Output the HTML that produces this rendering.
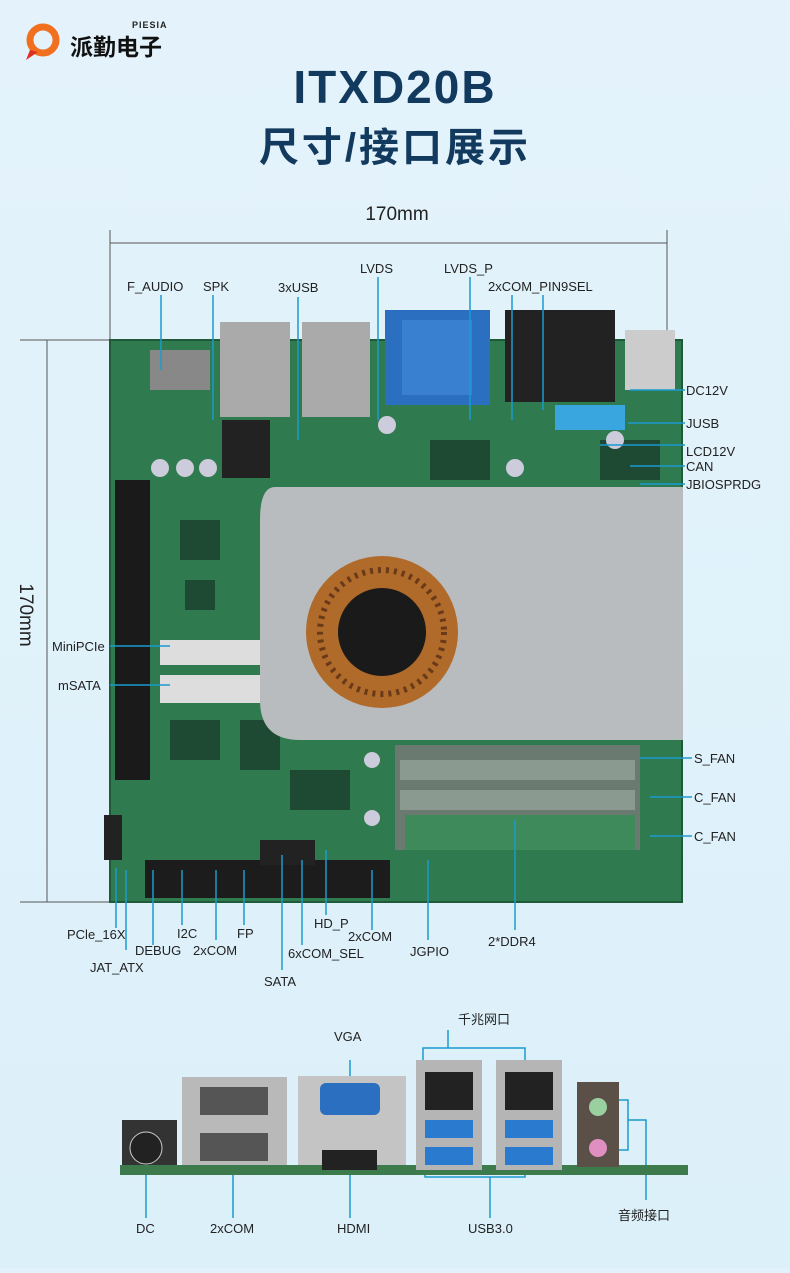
<!DOCTYPE html><html><head><meta charset="utf-8"><style>
body{margin:0;width:790px;height:1268px;overflow:hidden;background:#e2f2fb}
text{font-family:"Liberation Sans","Noto Sans CJK SC",sans-serif}
</style></head><body>
<svg width="790" height="1268" viewBox="0 0 790 1268" xmlns="http://www.w3.org/2000/svg">
<defs><linearGradient id="bg" x1="0" y1="0" x2="0" y2="1"><stop offset="0" stop-color="#e4f3fb"/><stop offset="1" stop-color="#dcf0fa"/></linearGradient></defs>
<rect width="790" height="1268" fill="url(#bg)"/>
<!-- logo -->
<circle cx="43" cy="40" r="13" fill="none" stroke="#f07020" stroke-width="7"/>
<path d="M30 50 L26 60 L38 52Z" fill="#e03020"/>
<text x="132" y="28" font-size="9" font-weight="bold" fill="#222" letter-spacing="1">PIESIA</text>
<text x="70" y="55" font-size="23" font-weight="bold" fill="#111">派勤电子</text>
<text x="395" y="103" font-size="46" font-weight="bold" fill="#123a5e" text-anchor="middle" letter-spacing="2">ITXD20B</text>
<text x="395" y="161" font-size="40" font-weight="bold" fill="#123a5e" text-anchor="middle" letter-spacing="3">尺寸/接口展示</text>
<!-- dims -->
<text x="397" y="220" font-size="19" fill="#222" text-anchor="middle">170mm</text>
<g stroke="#555" stroke-width="1"><line x1="110" y1="243" x2="667" y2="243"/><line x1="110" y1="230" x2="110" y2="340"/><line x1="667" y1="230" x2="667" y2="340"/>
<line x1="47" y1="340" x2="47" y2="902"/><line x1="20" y1="340" x2="115" y2="340"/><line x1="20" y1="902" x2="115" y2="902"/></g>
<text transform="translate(20,615) rotate(90)" font-size="19" fill="#222" text-anchor="middle">170mm</text>
<!-- board -->
<rect x="110" y="340" width="572" height="562" fill="#2f7a4e"/>
<rect x="110" y="340" width="572" height="562" fill="none" stroke="#1f5a38" stroke-width="2"/>
<g fill="#1e4a34"><rect x="180" y="520" width="40" height="40"/><rect x="185" y="580" width="30" height="30"/><rect x="170" y="720" width="50" height="40"/><rect x="240" y="720" width="40" height="50"/><rect x="430" y="440" width="60" height="40"/><rect x="600" y="440" width="60" height="40"/><rect x="290" y="770" width="60" height="40"/></g>
<g fill="#ccd"><circle cx="160" cy="468" r="9"/><circle cx="185" cy="468" r="9"/><circle cx="208" cy="468" r="9"/><circle cx="387" cy="425" r="9"/><circle cx="515" cy="468" r="9"/><circle cx="372" cy="760" r="8"/><circle cx="372" cy="818" r="8"/><circle cx="615" cy="440" r="9"/></g>
<rect x="115" y="480" width="35" height="300" fill="#1a1a1a"/>
<rect x="150" y="350" width="60" height="40" fill="#888"/>
<rect x="220" y="322" width="70" height="95" fill="#aaa"/>
<rect x="302" y="322" width="68" height="95" fill="#aaa"/>
<rect x="385" y="310" width="105" height="95" fill="#2a6fc0"/>
<rect x="402" y="320" width="70" height="75" fill="#3a80d0"/>
<rect x="505" y="310" width="110" height="92" fill="#222"/>
<rect x="625" y="330" width="50" height="60" fill="#ccc"/>
<rect x="222" y="420" width="48" height="58" fill="#222"/>
<rect x="555" y="405" width="70" height="25" fill="#3aa6e0"/>
<rect x="160" y="640" width="100" height="25" fill="#ddd"/>
<rect x="160" y="675" width="100" height="28" fill="#ddd"/>
<rect x="395" y="745" width="245" height="105" fill="#6a7a70"/>
<rect x="400" y="760" width="235" height="20" fill="#8a9a90"/>
<rect x="400" y="790" width="235" height="20" fill="#8a9a90"/>
<rect x="405" y="815" width="230" height="35" fill="#3e8a5a"/>
<rect x="145" y="860" width="245" height="38" fill="#1c1c1c"/>
<rect x="260" y="840" width="55" height="25" fill="#222"/>
<rect x="104" y="815" width="18" height="45" fill="#222"/>
<!-- heatsink -->
<path d="M275 487 H683 V740 H300 Q260 740 260 700 V520 Q260 487 275 487Z" fill="#b9bcbe"/>
<circle cx="382" cy="632" r="76" fill="#b06a2a"/>
<circle cx="382" cy="632" r="62" fill="none" stroke="#6a3a18" stroke-width="6" stroke-dasharray="3 5"/>
<circle cx="382" cy="632" r="44" fill="#1a1a1a"/>
<!-- labels -->
<g stroke="#1a9ad0" stroke-width="1.5" fill="none">
<path d="M161 295V370M213 295V420M298 297V440M378 277V420M470 277V420M512 295V420M543 295V410"/>
<path d="M630 390H685M628 423H685M600 445H685M630 466H685M640 484H685M640 758H692M650 797H692M650 836H692"/>
<path d="M110 646H170M110 685H170"/>
<path d="M116 868V928M126 870V950M153 870V945M182 870V925M216 870V940M244 870V925M282 855V970M302 860V945M326 850V915M372 870V930M428 860V940M515 820V930"/>
<path d="M146 1150V1218M233 1095V1218M350 1060V1105M350 1160V1218M448 1030V1048M448 1048H423V1070M448 1048H525V1070M425 1150V1177H525V1150M490 1177V1218M610 1100H628V1150H610M628 1120H646V1200"/>
</g>
<g font-size="13" fill="#222">
<text x="127" y="291">F_AUDIO</text><text x="203" y="291">SPK</text><text x="278" y="292">3xUSB</text>
<text x="360" y="273">LVDS</text><text x="444" y="273">LVDS_P</text><text x="488" y="291">2xCOM_PIN9SEL</text>
<text x="686" y="395">DC12V</text><text x="686" y="428">JUSB</text><text x="686" y="456">LCD12V</text><text x="686" y="471">CAN</text><text x="686" y="489">JBIOSPRDG</text>
<text x="694" y="763">S_FAN</text><text x="694" y="802">C_FAN</text><text x="694" y="841">C_FAN</text>
<text x="52" y="651">MiniPCIe</text><text x="58" y="690">mSATA</text>
<text x="67" y="939">PCle_16X</text><text x="135" y="955">DEBUG</text><text x="90" y="972">JAT_ATX</text>
<text x="177" y="938">I2C</text><text x="193" y="955">2xCOM</text><text x="237" y="938">FP</text>
<text x="314" y="928">HD_P</text><text x="348" y="941">2xCOM</text><text x="288" y="958">6xCOM_SEL</text>
<text x="264" y="986">SATA</text><text x="410" y="956">JGPIO</text><text x="488" y="946">2*DDR4</text>
<text x="334" y="1041">VGA</text><text x="458" y="1024">千兆网口</text>
<text x="136" y="1233">DC</text><text x="210" y="1233">2xCOM</text><text x="337" y="1233">HDMI</text><text x="468" y="1233">USB3.0</text><text x="618" y="1220">音频接口</text>
</g>
<!-- IO panel -->
<rect x="120" y="1165" width="568" height="10" fill="#3d7a4c"/>
<rect x="122" y="1120" width="55" height="45" fill="#333"/><circle cx="146" cy="1148" r="16" fill="#222" stroke="#ccc"/>
<rect x="182" y="1077" width="105" height="88" fill="#b9b9b9"/>
<rect x="200" y="1087" width="68" height="28" fill="#555"/><rect x="200" y="1133" width="68" height="28" fill="#555"/>
<rect x="298" y="1076" width="108" height="89" fill="#c4c4c4"/>
<rect x="320" y="1083" width="60" height="32" rx="6" fill="#2a6fc0"/><rect x="322" y="1150" width="55" height="20" fill="#222"/>
<rect x="416" y="1060" width="66" height="110" fill="#b5b5b5"/><rect x="496" y="1060" width="66" height="110" fill="#b5b5b5"/>
<rect x="425" y="1072" width="48" height="38" fill="#222"/><rect x="505" y="1072" width="48" height="38" fill="#222"/>
<rect x="425" y="1120" width="48" height="18" fill="#2a7ad0"/><rect x="505" y="1120" width="48" height="18" fill="#2a7ad0"/>
<rect x="425" y="1147" width="48" height="18" fill="#2a7ad0"/><rect x="505" y="1147" width="48" height="18" fill="#2a7ad0"/>
<rect x="577" y="1082" width="42" height="85" fill="#5a5048"/>
<circle cx="598" cy="1107" r="9" fill="#9ad0a0"/><circle cx="598" cy="1148" r="9" fill="#e090c0"/>
</svg></body></html>
